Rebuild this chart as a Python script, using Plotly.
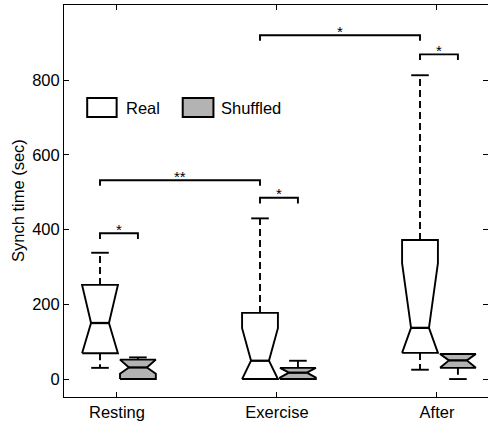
import plotly.graph_objects as go

# ---------------- data ----------------
categories = ["Resting", "Exercise", "After"]

real_whisker_low = [30, 0, 25]
real_q1 = [69, 0, 70]
real_median = [150, 49, 137]
real_q3 = [252, 177, 372]
real_whisker_high = [338, 430, 813]
real_notch_low = [69, 0, 70]
real_notch_high = [252, 136, 310]

shuf_whisker_low = [0, 0, 0]
shuf_q1 = [0, 0, 30]
shuf_median = [31, 17, 50]
shuf_q3 = [52, 30, 67]
shuf_whisker_high = [58, 49, 67]
shuf_notch_low = [14, 4, 30]
shuf_notch_high = [52, 30, 67]

# significance brackets: (category, series) -> (category, series), height, label
bracket_from_cat = [0, 0, 1, 1, 2]
bracket_from_series = ["Real", "Real", "Real", "Real", "Real"]
bracket_to_cat = [0, 1, 1, 2, 2]
bracket_to_series = ["Shuffled", "Real", "Shuffled", "Real", "Shuffled"]
bracket_height = [390, 532, 485, 920, 869]
bracket_label = ["*", "**", "*", "*", "*"]

# ---------------- styling ----------------
FONT = "Liberation Sans, Arial, Helvetica, sans-serif"
FS = 16.5
SERIES_OFFSET = {"Real": -0.106, "Shuffled": 0.131}
SERIES_FILL = {"Real": "white", "Shuffled": "#b3b3b3"}
BOX_HW = 0.112
NOTCH_HW = BOX_HW / 2
CAP_HW = 0.055
LW = 1.9
BRACKET_DROP = 15

fig = go.Figure()


def add_box(cat, series, wlo, q1, med, q3, whi, nlo, nhi):
    xc = cat + 1 + SERIES_OFFSET[series]
    nlo = max(nlo, q1)
    nhi = min(nhi, q3)
    if whi > q3:
        fig.add_trace(go.Scatter(x=[xc, xc], y=[q3, whi], mode="lines",
                                 line=dict(color="black", width=LW, dash="7px,4px"),
                                 hoverinfo="skip", showlegend=False))
        fig.add_trace(go.Scatter(x=[xc - CAP_HW, xc + CAP_HW], y=[whi, whi], mode="lines",
                                 line=dict(color="black", width=LW),
                                 hoverinfo="skip", showlegend=False))
    if wlo < q1:
        fig.add_trace(go.Scatter(x=[xc, xc], y=[q1, wlo], mode="lines",
                                 line=dict(color="black", width=LW, dash="7px,4px"),
                                 hoverinfo="skip", showlegend=False))
        fig.add_trace(go.Scatter(x=[xc - CAP_HW, xc + CAP_HW], y=[wlo, wlo], mode="lines",
                                 line=dict(color="black", width=LW),
                                 hoverinfo="skip", showlegend=False))
    xs = [xc - BOX_HW, xc - BOX_HW, xc - NOTCH_HW, xc - BOX_HW, xc - BOX_HW,
          xc + BOX_HW, xc + BOX_HW, xc + NOTCH_HW, xc + BOX_HW, xc + BOX_HW, xc - BOX_HW]
    ys = [q1, nlo, med, nhi, q3, q3, nhi, med, nlo, q1, q1]
    fig.add_trace(go.Scatter(x=xs, y=ys, mode="lines", fill="toself",
                             fillcolor=SERIES_FILL[series],
                             line=dict(color="black", width=LW),
                             hoverinfo="skip", showlegend=False))
    fig.add_trace(go.Scatter(x=[xc - NOTCH_HW, xc + NOTCH_HW], y=[med, med], mode="lines",
                             line=dict(color="black", width=LW + 0.4),
                             hoverinfo="skip", showlegend=False))


for i in range(len(categories)):
    add_box(i, "Real", real_whisker_low[i], real_q1[i], real_median[i], real_q3[i],
            real_whisker_high[i], real_notch_low[i], real_notch_high[i])
    add_box(i, "Shuffled", shuf_whisker_low[i], shuf_q1[i], shuf_median[i], shuf_q3[i],
            shuf_whisker_high[i], shuf_notch_low[i], shuf_notch_high[i])

for fc, fs, tc, ts, h, lab in zip(bracket_from_cat, bracket_from_series, bracket_to_cat,
                                  bracket_to_series, bracket_height, bracket_label):
    x0 = fc + 1 + SERIES_OFFSET[fs]
    x1 = tc + 1 + SERIES_OFFSET[ts]
    fig.add_trace(go.Scatter(x=[x0, x0, x1, x1], y=[h - BRACKET_DROP, h, h, h - BRACKET_DROP],
                             mode="lines", line=dict(color="black", width=LW),
                             hoverinfo="skip", showlegend=False))
    fig.add_annotation(x=(x0 + x1) / 2, y=h, text=lab, showarrow=False,
                       xanchor="center", yanchor="middle", yshift=4,
                       font=dict(family=FONT, size=15, color="black"))

legend_items = [("Real", 0.814, 0.998, 1.047), ("Shuffled", 1.411, 1.603, 1.6375)]
for name, rx0, rx1, tx in legend_items:
    fig.add_shape(type="rect", xref="x", yref="y", x0=rx0, x1=rx1, y0=701, y1=752,
                  line=dict(color="black", width=2), fillcolor=SERIES_FILL[name])
    fig.add_annotation(x=tx, y=726, text=name, showarrow=False, xanchor="left",
                       yanchor="middle", font=dict(family=FONT, size=FS, color="black"))

fig.add_annotation(xref="paper", yref="paper", x=0, y=0.5, xshift=-46,
                   text="Synch time (sec)", textangle=-90, showarrow=False,
                   xanchor="center", yanchor="middle",
                   font=dict(family=FONT, size=FS, color="black"))

fig.update_layout(
    width=488, height=424,
    margin=dict(l=64, r=0, t=5, b=27),
    paper_bgcolor="white", plot_bgcolor="white",
    font=dict(family=FONT, size=FS, color="black"),
    xaxis=dict(range=[0.669, 3.319], tickvals=[1, 2, 3], ticktext=categories,
               showgrid=False, zeroline=False, showline=True, linecolor="black",
               linewidth=1, mirror="ticks", ticks="inside", ticklen=5,
               tickcolor="black", tickfont=dict(size=FS)),
    yaxis=dict(range=[-48, 1001], tickvals=[0, 200, 400, 600, 800],
               showgrid=False, zeroline=False, showline=True, linecolor="black",
               linewidth=1, mirror="ticks", ticks="inside", ticklen=5,
               tickcolor="black", tickfont=dict(size=FS)),
)

fig.write_html("out.html", config={"displayModeBar": False},
               post_script="document.body.style.margin='0';document.body.style.overflow='hidden';")
